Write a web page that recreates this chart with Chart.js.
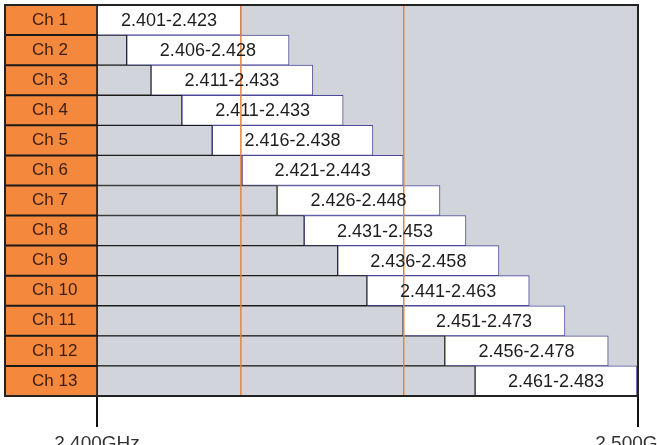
<!DOCTYPE html>
<html>
<head>
<meta charset="utf-8">
<script src="https://cdn.jsdelivr.net/npm/chart.js@4.4.1/dist/chart.umd.min.js"></script>
<style>
    html, body { margin: 0; padding: 0; background: #ffffff; }
    #wrap { width: 657px; height: 445px; position: relative; }
</style>
</head>
<body>
<div id="wrap"><canvas id="myChart"></canvas></div>
<script>
// channel rows, top to bottom
const channels = ['Ch 1', 'Ch 2', 'Ch 3', 'Ch 4', 'Ch 5', 'Ch 6', 'Ch 7', 'Ch 8', 'Ch 9', 'Ch 10', 'Ch 11', 'Ch 12', 'Ch 13'];
// text printed inside each white box
const rangeLabels = ['2.401-2.423', '2.406-2.428', '2.411-2.433', '2.411-2.433', '2.416-2.438', '2.421-2.443', '2.426-2.448',
    '2.431-2.453', '2.436-2.458', '2.441-2.463', '2.451-2.473', '2.456-2.478', '2.461-2.483'];
// where the boxes sit on the drawn GHz axis (it is schematic)
const barStart = [2.4000, 2.4055, 2.4100, 2.4157, 2.4213, 2.4268, 2.4333, 2.4383, 2.4445, 2.4499, 2.4566, 2.4643, 2.4699];
const barEnd = [2.4266, 2.4355, 2.4399, 2.4455, 2.4510, 2.4566, 2.4634, 2.4682, 2.4743, 2.4799, 2.4865, 2.4945, 2.4998];
// orange guide lines
const markers = [2.4266, 2.4567];
// x axis
const axisMin = 2.400;
const axisMax = 2.500;
const axisTicks = [2.400, 2.500];

const FONT = "'Liberation Sans', Arial, sans-serif";
const LABEL_INSET = 27;   // orange column starts this far left of the label text

function noPadding(scale) {
    scale.paddingLeft = 0;
    scale.paddingRight = 0;
    scale.paddingTop = 0;
    scale.paddingBottom = 0;
}

const tableDeco = {
    id: 'tableDeco',
    beforeDraw(chart) {
        const ctx = chart.ctx;
        const a = chart.chartArea;
        const y = chart.scales.y;
        const left = y.left - LABEL_INSET;
        ctx.save();
        ctx.fillStyle = '#F4883C';
        ctx.fillRect(left, a.top, a.left - left, a.bottom - a.top);
        ctx.fillStyle = '#D1D5DB';
        ctx.fillRect(a.left, a.top, a.right - a.left, a.bottom - a.top);
        ctx.restore();
    },
    afterDatasetsDraw(chart) {
        const ctx = chart.ctx;
        const a = chart.chartArea;
        const x = chart.scales.x;
        const y = chart.scales.y;
        const left = y.left - LABEL_INSET;
        ctx.save();

        // row separators in the label column
        ctx.strokeStyle = '#1a1a1a';
        ctx.lineWidth = 2;
        for (let i = 1; i < channels.length; i++) {
            const yy = (y.getPixelForValue(i - 1) + y.getPixelForValue(i)) / 2;
            ctx.beginPath();
            ctx.moveTo(left, yy);
            ctx.lineTo(a.left, yy);
            ctx.stroke();
        }
        ctx.lineWidth = 1.5;
        ctx.beginPath();
        ctx.moveTo(a.left, a.top);
        ctx.lineTo(a.left, a.bottom);
        ctx.stroke();

        // orange guide lines
        ctx.strokeStyle = '#E8823E';
        ctx.lineWidth = 1.5;
        markers.forEach(function(m) {
            const px = x.getPixelForValue(m);
            ctx.beginPath();
            ctx.moveTo(px, a.top);
            ctx.lineTo(px, a.bottom);
            ctx.stroke();
        });

        // frame
        ctx.strokeStyle = '#222222';
        ctx.lineWidth = 2;
        ctx.strokeRect(left, a.top, a.right - left, a.bottom - a.top);

        // range text in the white boxes
        const meta = chart.getDatasetMeta(1);
        ctx.fillStyle = '#1e1e1e';
        ctx.font = '18px ' + FONT;
        ctx.textAlign = 'center';
        ctx.textBaseline = 'middle';
        meta.data.forEach(function(bar, i) {
            const cx = (bar.x + bar.base) / 2;
            ctx.fillText(rangeLabels[i], cx, bar.y + 1);
        });
        ctx.restore();
    }
};

const data = {
    labels: channels,
    datasets: [{
        label: 'below',
        data: barStart.map(function(s) { return [axisMin, s]; }),
        backgroundColor: '#D1D5DB',
        borderColor: '#1a1a1a',
        borderWidth: 1,
        borderSkipped: false,
        grouped: false,
        barPercentage: 1,
        categoryPercentage: 1
    }, {
        label: 'channel',
        data: barStart.map(function(s, i) { return [s, barEnd[i]]; }),
        backgroundColor: '#ffffff',
        borderColor: '#4A4898',
        borderWidth: 1,
        borderSkipped: false,
        grouped: false,
        barPercentage: 1,
        categoryPercentage: 1
    }]
};

const config = {
    type: 'bar',
    data: data,
    options: {
        indexAxis: 'y',
        responsive: true,
        maintainAspectRatio: false,
        animation: false,
        layout: {
            autoPadding: false,
            padding: { left: LABEL_INSET + 5, top: 5, right: 19, bottom: 0 }
        },
        plugins: {
            legend: { display: false },
            tooltip: { enabled: false }
        },
        scales: {
            x: {
                type: 'linear',
                min: axisMin,
                max: axisMax,
                afterBuildTicks: function(scale) {
                    scale.ticks = axisTicks.map(function(v) { return { value: v }; });
                },
                afterFit: function(scale) {
                    scale.height = 49;
                    noPadding(scale);
                },
                grid: {
                    drawOnChartArea: false,
                    drawTicks: true,
                    tickLength: 31,
                    color: '#111111',
                    lineWidth: 2
                },
                border: { display: false },
                ticks: {
                    autoSkip: false,
                    maxRotation: 0,
                    padding: 5,
                    color: '#333333',
                    font: { family: FONT, size: 19 },
                    callback: function(v) { return Number(v).toFixed(3) + 'GHz'; }
                }
            },
            y: {
                afterFit: function(scale) {
                    scale.width = 65;
                    noPadding(scale);
                },
                grid: { display: false, drawTicks: false },
                border: { display: false },
                ticks: {
                    crossAlign: 'far',
                    color: '#3a1d0c',
                    font: { family: FONT, size: 17 }
                }
            }
        }
    },
    plugins: [tableDeco]
};

const myChart = new Chart(document.getElementById('myChart'), config);
</script>
</body>
</html>
